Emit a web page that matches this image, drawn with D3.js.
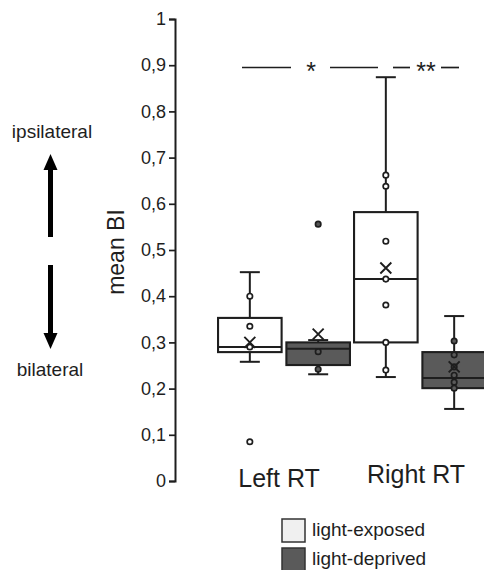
<!DOCTYPE html>
<html><head><meta charset="utf-8">
<script src="https://cdn.jsdelivr.net/npm/d3@7"></script>
<style>body{margin:0;background:#fff}svg{display:block;font-family:"Liberation Sans",Arial,sans-serif}</style>
</head><body><svg id="c" width="484" height="570"></svg>
<script>
const groups = ["Left RT", "Right RT"];
const conditions = ["light-exposed", "light-deprived"];
const yTicks = [0,0.1,0.2,0.3,0.4,0.5,0.6,0.7,0.8,0.9,1];
// box statistics per group/condition
const boxKeys   = [["Left RT","light-exposed"],["Left RT","light-deprived"],["Right RT","light-exposed"],["Right RT","light-deprived"]];
const whiskLow  = [0.258, 0.231, 0.225, 0.156];
const q1        = [0.279, 0.251, 0.300, 0.201];
const medians   = [0.290, 0.286, 0.437, 0.223];
const q3        = [0.353, 0.300, 0.582, 0.279];
const whiskHigh = [0.452, 0.305, 0.874, 0.357];
const means     = [0.300, 0.318, 0.461, 0.247];
const points    = [[0.400,0.335,0.290],[0.280,0.242],[0.662,0.638,0.519,0.437,0.381,0.300,0.240],[0.303,0.273,0.247,0.229,0.214,0.201]];
const outliers  = [[0.085],[0.556],[],[]];
const sigY = 0.895;

const svg = d3.select("#c");
const y = d3.scaleLinear().domain([0,1]).range([481,19]);
const xg = d3.scaleBand().domain(groups).range([216,488]);
const xc = d3.scaleBand().domain(conditions).range([0,xg.bandwidth()]).paddingInner(0.07).paddingOuter(0.03);
const fill = d3.scaleOrdinal().domain(conditions).range(["#ffffff","#5a5a5a"]);
const legFill = d3.scaleOrdinal().domain(conditions).range(["#f0f0f0","#5a5a5a"]);
const ink = "#1e1e1e";

// axis
const ax = svg.append("g").attr("transform","translate(175,0)")
  .call(d3.axisLeft(y).tickValues(yTicks).tickSize(6).tickFormat(d => d3.format(".1f")(d).replace(".",",").replace(/^0,0$/,"0").replace(/^1,0$/,"1")));
ax.select(".domain").attr("stroke",ink).attr("stroke-width",2);
ax.selectAll(".tick line").attr("stroke",ink).attr("stroke-width",1.7);
ax.selectAll(".tick text").attr("font-size",18).attr("fill",ink).attr("x",-9).attr("font-family","Liberation Sans, Arial, sans-serif");

// boxes
boxKeys.forEach((k,i) => {
  const x0 = xg(k[0]) + xc(k[1]);
  const w = xc.bandwidth();
  const cx = x0 + w/2;
  const g = svg.append("g");
  const cap = 10;
  const sw = 2;
  g.append("line").attr("x1",cx).attr("x2",cx).attr("y1",y(whiskHigh[i])).attr("y2",y(q3[i])).attr("stroke",ink).attr("stroke-width",sw);
  g.append("line").attr("x1",cx).attr("x2",cx).attr("y1",y(q1[i])).attr("y2",y(whiskLow[i])).attr("stroke",ink).attr("stroke-width",sw);
  g.append("line").attr("x1",cx-cap).attr("x2",cx+cap).attr("y1",y(whiskHigh[i])).attr("y2",y(whiskHigh[i])).attr("stroke",ink).attr("stroke-width",sw);
  g.append("line").attr("x1",cx-cap).attr("x2",cx+cap).attr("y1",y(whiskLow[i])).attr("y2",y(whiskLow[i])).attr("stroke",ink).attr("stroke-width",sw);
  g.append("rect").attr("x",x0).attr("width",w).attr("y",y(q3[i])).attr("height",y(q1[i])-y(q3[i]))
    .attr("fill",fill(k[1])).attr("stroke",ink).attr("stroke-width",2.1);
  g.append("line").attr("x1",x0).attr("x2",x0+w).attr("y1",y(medians[i])).attr("y2",y(medians[i])).attr("stroke",ink).attr("stroke-width",sw);
  points[i].forEach(v => g.append("circle").attr("cx",cx).attr("cy",y(v)).attr("r",2.7)
    .attr("fill",fill(k[1])).attr("stroke",ink).attr("stroke-width",1.7));
  outliers[i].forEach(v => g.append("circle").attr("cx",cx).attr("cy",y(v)).attr("r",2.7)
    .attr("fill",k[1]==="light-deprived"?"#555":"#fff").attr("stroke",ink).attr("stroke-width",1.7));
  const my = y(means[i]), s = 5.5;
  g.append("path").attr("d",`M${cx-s},${my-s}L${cx+s},${my+s}M${cx-s},${my+s}L${cx+s},${my-s}`)
    .attr("stroke",ink).attr("stroke-width",1.9).attr("fill","none");
});

// significance markers
const sy = y(sigY);
const sigLines = [[242,291],[330,378],[393,410],[441,459]];
sigLines.forEach(s => svg.append("line").attr("x1",s[0]).attr("x2",s[1]).attr("y1",sy).attr("y2",sy).attr("stroke",ink).attr("stroke-width",1.7));
svg.append("text").attr("x",311).attr("y",sy+12).attr("text-anchor","middle").attr("font-size",25).attr("fill",ink).text("*");
svg.append("text").attr("x",426).attr("y",sy+12).attr("text-anchor","middle").attr("font-size",25).attr("fill",ink).text("**");

// group labels
const gl = [[groups[0], 279, 487],[groups[1], 416, 483]];
gl.forEach(d => svg.append("text").attr("x",d[1]).attr("y",d[2]).attr("text-anchor","middle").attr("font-size",25).attr("fill",ink).text(d[0]));

// y title
svg.append("text").attr("transform","translate(124,252) rotate(-90)").attr("text-anchor","middle").attr("font-size",23).attr("fill",ink).text("mean BI");

// direction annotation
svg.append("text").attr("x",52).attr("y",138).attr("text-anchor","middle").attr("font-size",19).attr("fill",ink).text("ipsilateral");
svg.append("text").attr("x",50).attr("y",376).attr("text-anchor","middle").attr("font-size",19).attr("fill",ink).text("bilateral");
svg.append("rect").attr("x",48).attr("y",168).attr("width",5).attr("height",69).attr("fill","#000");
svg.append("path").attr("d","M50.5,154L57.5,170L43.5,170Z").attr("fill","#000");
svg.append("rect").attr("x",48).attr("y",265).attr("width",5).attr("height",70).attr("fill","#000");
svg.append("path").attr("d","M50.5,349L57.5,333L43.5,333Z").attr("fill","#000");

// legend
conditions.forEach((c,i) => {
  const ly = 519 + i*29;
  svg.append("rect").attr("x",282).attr("y",ly).attr("width",23).attr("height",23).attr("fill",legFill(c)).attr("stroke","#333").attr("stroke-width",1.5);
  svg.append("text").attr("x",312).attr("y",ly+17).attr("font-size",19).attr("fill",ink).text(c);
});
</script></body></html>
